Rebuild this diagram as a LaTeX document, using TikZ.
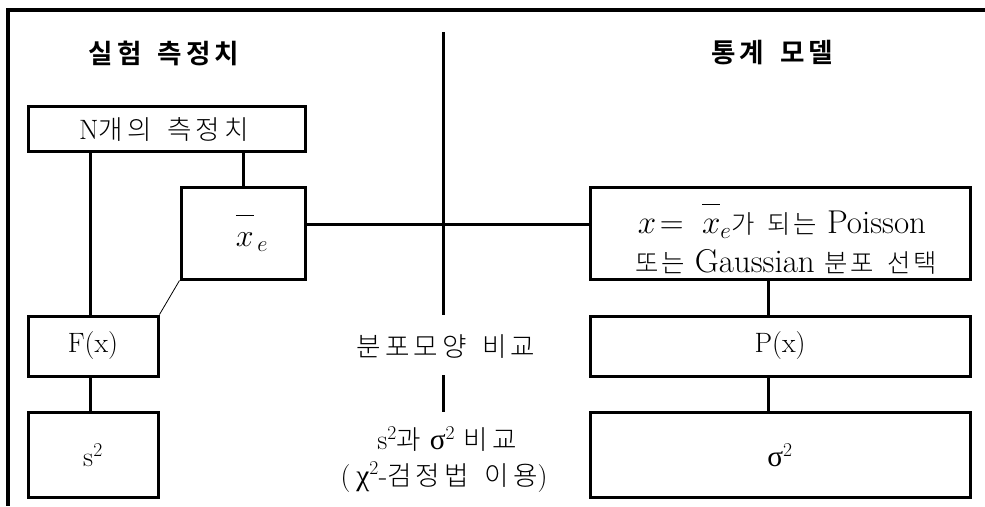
\RequirePackage{fix-cm}
\documentclass[tikz,border=0pt]{standalone}
\usepackage{fontspec}
\newfontfamily\kr[Scale=0.95,LetterSpace=15,WordSpace=1.6,UprightFont={* Light},BoldFont={* Bold}]{Noto Sans CJK KR}
\newfontfamily\krs[Scale=0.77,LetterSpace=10,WordSpace=1.6,UprightFont={* Light},BoldFont={* Bold}]{Noto Sans CJK KR}
\newfontfamily\grk[Scale=1.05]{Liberation Serif}
\begin{document}
\begin{tikzpicture}[x=1pt,y=-1pt,
  box/.style={draw,line width=3pt,inner sep=0pt},
  conn/.style={line width=3pt},
  thinconn/.style={line width=0.8pt},
  txt/.style={inner sep=0pt,font=\fontsize{28}{32}\selectfont},
  bigtxt/.style={inner sep=0pt,font=\fontsize{33}{37}\selectfont}]
\useasboundingbox (0,0) rectangle (985,506);
% frame
\coordinate (ftr) at (985,10);
\coordinate (ftl) at (8,10);
\coordinate (fbl) at (8,506);
\draw[line width=3.2pt] (ftr) -- (ftl) -- (fbl);
% titles
\node[txt] (t1) at (164,53) {\kr\bfseries 실험 측정치};
\node[txt] (t2) at (772,53) {\kr\bfseries 통계 모델};
% central divider
\coordinate (d1) at (443,32);
\coordinate (d2) at (443,315);
\coordinate (d3) at (443,375);
\coordinate (d4) at (443,412);
\draw[conn] (d1) -- (d2);
\draw[conn] (d3) -- (d4);
% left boxes
\node[box,minimum width=277pt,minimum height=45pt] (N) at (166.5,128.5) {};
\node[txt] (Nt) at (164,129) {N{\kr 개의 측정치}};
\node[box,minimum width=124pt,minimum height=92pt] (xe) at (243,233) {};
\node[txt] (xet) at (252,233) {\fontsize{32}{36}\selectfont$\overline{\rule{0pt}{0.95em}x}_{\,e}$};
\node[box,minimum width=130pt,minimum height=60pt] (F) at (93,346) {};
\node[txt] (Ft) at (93,346) {F(x)};
\node[box,minimum width=130pt,minimum height=85pt] (s2) at (93,454.5) {};
\node[txt] (s2t) at (93,455) {s\textsuperscript{2}};
% right boxes
\node[box,minimum width=380pt,minimum height=92pt] (R1) at (780,233) {};
\node[bigtxt] (R1a) at (782,221) {$x\!=\;\overline{\rule{0pt}{0.85em}x}_{e}${\krs 가 되는} Poisson};
\node[bigtxt] (R1b) at (786,262) {{\krs 또는} Gaussian {\krs 분포 선택}};
\node[box,minimum width=380pt,minimum height=60pt] (P) at (780,346) {};
\node[txt] (Pt) at (780,346) {P(x)};
\node[box,minimum width=380pt,minimum height=85pt] (sig) at (780,454.5) {};
\node[txt] (sigt) at (780,455) {{\grk σ}\textsuperscript{2}};
% middle texts
\node[txt] (c1) at (446,347) {\kr 분포모양 비교};
\node[txt] (c2) at (447,439) {s\textsuperscript{2}{\kr 과} {\grk σ}\textsuperscript{2} {\kr 비교}};
\node[txt] (c3) at (444,477) {(\hspace{6pt}{\grk χ}\textsuperscript{2}-{\kr 검정법 이용})};
% connectors
\draw[conn] ([xshift=-3pt]N.south -| F.north) -- ([xshift=-3pt]F.north);
\draw[conn] (xe.north |- N.south) -- (xe.north);
\draw[conn] ([yshift=9pt]xe.east) -- ([yshift=9pt]R1.west);
\draw[thinconn] (xe.south west) -- (F.north east);
\draw[conn] ([xshift=-3pt]F.south) -- ([xshift=-3pt]s2.north);
\draw[conn] ([xshift=-12pt]R1.south) -- ([xshift=-12pt]P.north);
\draw[conn] ([xshift=-12pt]P.south) -- ([xshift=-12pt]sig.north);
\end{tikzpicture}
\end{document}
